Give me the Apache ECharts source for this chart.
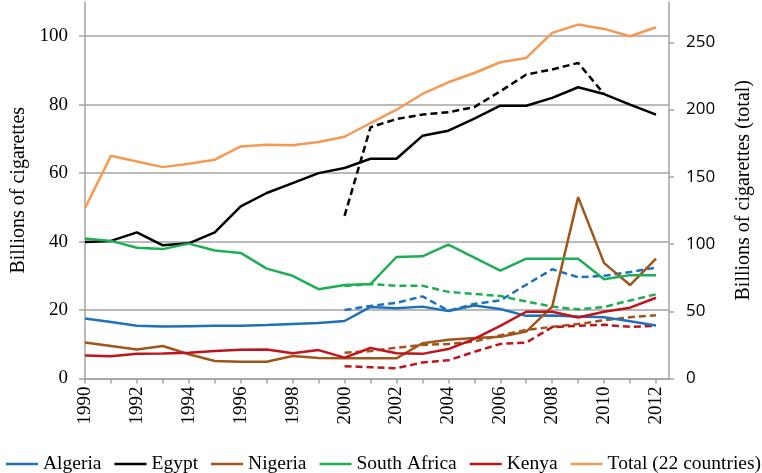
<!DOCTYPE html>
<html><head><meta charset="utf-8">
<script src="https://cdn.jsdelivr.net/npm/echarts@6/dist/echarts.min.js"></script>
<style>html,body{margin:0;padding:0;background:#fff;}#c{width:762px;height:473px;}</style>
</head><body><div id="c"></div>
<script>
var years = [1990,1991,1992,1993,1994,1995,1996,1997,1998,1999,2000,2001,2002,2003,2004,2005,2006,2007,2008,2009,2010,2011,2012];
var altYears = [2000,2001,2002,2003,2004,2005,2006,2007,2008,2009,2010,2011,2012];
var algeria = [17.5,16.5,15.4,15.2,15.3,15.4,15.4,15.6,15.9,16.2,16.8,20.9,20.5,21.0,19.7,21.3,20.3,18.3,18.4,18.1,17.9,16.7,15.5];
var egypt = [39.9,40.2,42.7,38.9,39.5,42.7,50.3,54.2,57.1,60.0,61.5,64.2,64.2,70.9,72.4,75.9,79.7,79.7,82.0,85.1,83.1,80.0,77.1];
var nigeria = [10.5,9.5,8.5,9.5,7.1,5.1,4.9,4.9,6.6,6.0,5.9,5.9,5.9,10.3,11.3,11.8,12.2,13.7,21.0,53.0,33.7,27.3,35.0];
var southAfrica = [40.9,40.2,38.2,37.8,39.4,37.4,36.7,32.1,30.0,26.1,27.3,27.6,35.5,35.7,39.1,35.3,31.5,35.0,35.0,35.0,29.0,30.2,30.2];
var kenya = [6.7,6.5,7.2,7.3,7.5,8.0,8.4,8.5,7.4,8.3,6.1,8.9,7.4,7.2,8.6,11.6,15.4,19.5,19.5,17.8,19.5,20.7,23.6];
var total = [126.7,165.7,161.4,157.2,159.7,162.7,172.6,173.9,173.4,175.9,179.8,190.0,199.9,211.6,220.3,227.2,235.2,238.4,257.0,263.2,260.0,254.5,261.2];
var algeriaAlt = [20.0,21.2,22.1,24.0,19.8,21.8,22.8,27.4,31.9,29.6,30.0,31.1,32.4];
var egyptAlt = [47.5,73.4,75.8,77.1,77.8,79.3,83.9,88.8,90.3,92.2,83.1,null,null];
var nigeriaAlt = [7.5,8.0,9.0,9.8,10.1,10.8,12.6,14.2,15.1,15.9,17.0,17.9,18.5];
var southAfricaAlt = [27.0,27.6,27.1,27.1,25.3,24.7,24.1,22.5,21.0,20.2,20.9,22.8,24.6];
var kenyaAlt = [3.6,3.3,3.0,4.7,5.3,7.8,10.1,10.5,15.0,15.4,15.7,15.1,15.4];
var leftTicks = [0,20,40,60,80,100];
var rightTicks = [0,50,100,150,200,250];

var colors = {Algeria:'#1f72b9', Egypt:'#000000', Nigeria:'#9e561c', 'South Africa':'#1eae55', Kenya:'#c0141c', 'Total (22 countries)':'#f39a55'};
function pairs(xs, ys){ return xs.map(function(x,i){ return [x, ys[i]]; }); }
function solid(name, ys, axis){
  return {name:name, type:'line', yAxisIndex:axis||0, data:pairs(years, ys), symbol:'none', showSymbol:false,
    lineStyle:{color:colors[name], width:2.5}, itemStyle:{color:colors[name]}, z:3, animation:false};
}
function dashed(name, ys){
  return {name:name+' alt', type:'line', data:pairs(altYears, ys), symbol:'none', showSymbol:false, connectNulls:false,
    lineStyle:{color:colors[name], width:2.5, type:[7,4]}, itemStyle:{color:colors[name]}, z:2, animation:false};
}
var serif = 'Liberation Serif';
var gridColor = '#a3a3a3';
var chart = echarts.init(document.getElementById('c'), null, {renderer:'canvas'});
chart.setOption({
  animation:false,
  grid:{left:85, right:89, top:2, bottom:94.5, containLabel:false},
  legend:{
    data:['Algeria','Egypt','Nigeria','South Africa','Kenya','Total (22 countries)'],
    left:1, top:449, width:900, itemWidth:32, itemHeight:14, itemGap:13,
    textStyle:{fontFamily:serif, fontSize:19.5, color:'#000'}, icon:'path://M0,6L32,6L32,8.5L0,8.5Z'
  },
  xAxis:{type:'value', min:1990, max:2012.5, interval:1,
    axisLine:{lineStyle:{color:gridColor, width:1.5}},
    axisTick:{show:true, length:5, lineStyle:{color:gridColor, width:1.5}, customValues:years},
    axisLabel:{rotate:90, fontFamily:serif, fontSize:19, color:'#000', margin:8,
      customValues:years.filter(function(y){return y%2===0;}), formatter:function(v){return String(v);}},
    splitLine:{show:false}
  },
  yAxis:[
    {type:'value', min:0, max:110, interval:20, position:'left',
     name:'Billions of cigarettes', nameLocation:'middle', nameRotate:90, nameGap:44,
     nameTextStyle:{fontFamily:serif, fontSize:20, color:'#000'},
     axisLine:{show:true, lineStyle:{color:gridColor, width:1.5}},
     axisTick:{show:true, length:6, lineStyle:{color:gridColor, width:1.5}, customValues:leftTicks},
     axisLabel:{fontFamily:serif, fontSize:19, color:'#000', margin:17, customValues:leftTicks},
     splitLine:{show:true, lineStyle:{color:[gridColor,gridColor,gridColor,gridColor,gridColor,gridColor,'rgba(0,0,0,0)'], width:1.5}}
    },
    {type:'value', min:0, max:280, interval:50, position:'right',
     name:'Billions of cigarettes (total)', nameLocation:'middle', nameRotate:90, nameGap:65,
     nameTextStyle:{fontFamily:serif, fontSize:20, color:'#000'},
     axisLine:{show:true, lineStyle:{color:gridColor, width:1.5}},
     axisTick:{show:true, length:5, lineStyle:{color:gridColor, width:1.5}, customValues:rightTicks},
     axisLabel:{fontFamily:'Open Sans', fontSize:17, color:'#000', margin:17, customValues:rightTicks},
     splitLine:{show:false}
    }
  ],
  series:[
    solid('Algeria', algeria), solid('Egypt', egypt), solid('Nigeria', nigeria),
    solid('South Africa', southAfrica), solid('Kenya', kenya), solid('Total (22 countries)', total, 1),
    dashed('Algeria', algeriaAlt), dashed('Egypt', egyptAlt), dashed('Nigeria', nigeriaAlt),
    dashed('South Africa', southAfricaAlt), dashed('Kenya', kenyaAlt)
  ]
});
</script></body></html>
